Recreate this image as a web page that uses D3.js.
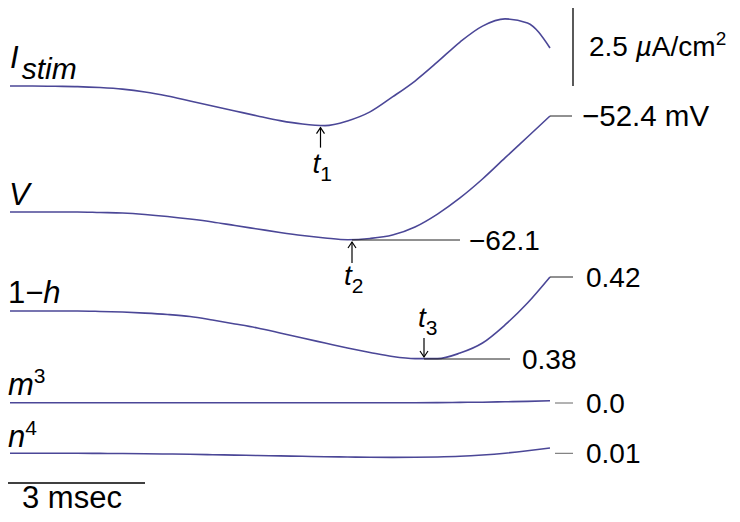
<!DOCTYPE html>
<html>
<head>
<meta charset="utf-8">
<script src="https://cdn.jsdelivr.net/npm/d3@7"></script>
<style>
  html, body { margin: 0; padding: 0; background: #fff; }
  svg { display: block; }
  text { font-family: "Liberation Sans", Arial, Helvetica, sans-serif; fill: #000; }
</style>
</head>
<body>
<svg id="chart" width="740" height="522"></svg>
<script>
// ---- data ----
const timeMs    = [0, 0.5, 1, 1.5, 2, 2.5, 3, 3.5, 4, 4.5, 5, 5.5, 6, 6.5, 7, 7.5, 8, 8.5, 9, 9.5, 10, 10.5, 11, 11.5, 12];
const iStim     = [0, 0, -0.01, -0.02, -0.05, -0.10, -0.19, -0.32, -0.48, -0.64, -0.80, -0.96, -1.11, -1.22, -1.27, -1.12, -0.83, -0.35, 0.16, 0.77, 1.41, 1.92, 2.15, 2.02, 1.22];
const voltage   = [-59.91, -59.91, -59.91, -59.91, -59.95, -59.99, -60.10, -60.26, -60.46, -60.69, -60.97, -61.24, -61.51, -61.75, -61.94, -62.08, -61.98, -61.71, -61.08, -60.07, -58.81, -57.33, -55.68, -54.04, -52.40];
const oneMinusH = [0.4034, 0.4034, 0.4034, 0.4034, 0.4032, 0.4029, 0.4024, 0.4017, 0.4007, 0.3990, 0.3971, 0.3951, 0.3927, 0.3902, 0.3878, 0.3854, 0.3832, 0.3812, 0.3802, 0.3802, 0.3829, 0.3878, 0.3966, 0.4073, 0.4200];
const mCubed    = [0.00015, 0.00015, 0.00015, 0.00015, 0.00015, 0.00015, 0.00015, 0.00015, 0.00015, 0.00015, 0.00015, 0.00015, 0.00015, 0.00015, 0.00015, 0.00015, 0.00015, 0.00015, 0.00015, 0.0002, 0.0003, 0.0004, 0.0006, 0.0008, 0.0011];
const nFourth   = [0.0100, 0.0100, 0.0100, 0.0100, 0.00995, 0.0099, 0.0098, 0.00966, 0.00951, 0.00932, 0.00912, 0.00893, 0.00873, 0.00854, 0.00834, 0.00820, 0.00805, 0.00800, 0.00805, 0.00820, 0.00854, 0.00917, 0.01005, 0.01122, 0.01259];

const markerTimes  = [6.9, 7.6, 9.2];          // t1, t2, t3 (ms)
const markerNames  = ["1", "2", "3"];
const vLevels      = [-52.4, -62.1];
const vLevelLabels = ["\u221252.4 mV", "\u221262.1"];
const hLevels      = [0.42, 0.38];
const hLevelLabels = ["0.42", "0.38"];
const mLevel = 0.0, mLevelLabel = "0.0";
const nLevel = 0.01, nLevelLabel = "0.01";
const currentBar = 2.5;      // µA/cm²
const timeBar = 3;           // msec

// ---- scales ----
const x  = d3.scaleLinear().domain([0, 12]).range([10, 550]);
const yI = d3.scaleLinear().domain([0, 2.5]).range([86, 8]);
const yV = d3.scaleLinear().domain([-62.1, -52.4]).range([240, 116]);
const yH = d3.scaleLinear().domain([0.38, 0.42]).range([359, 277]);
const yM = d3.scaleLinear().domain([0, 0.04]).range([403, 321]);
const yN = d3.scaleLinear().domain([0.01, 0.05]).range([453.3, 371.3]);

const svg = d3.select("#chart");
const traceColor = "#4b4797";

function trace(values, y) {
  const line = d3.line().x((d, i) => x(timeMs[i])).y(d => y(d)).curve(d3.curveMonotoneX);
  svg.append("path").attr("d", line(values))
    .attr("fill", "none").attr("stroke", traceColor).attr("stroke-width", 1.6);
}
trace(iStim, yI);
trace(voltage, yV);
trace(oneMinusH, yH);
trace(mCubed, yM);
trace(nFourth, yN);

// ---- left labels ----
function label(xp, yp, parts) {
  const t = svg.append("text").attr("x", xp).attr("y", yp);
  parts.forEach(p => {
    const s = t.append("tspan").text(p.t).attr("font-size", p.size);
    if (p.italic) s.attr("font-style", "italic");
    if (p.dy) s.attr("dy", p.dy);
    if (p.dx) s.attr("dx", p.dx);
  });
  return t;
}
label(10, 68, [{t: "I", size: 31, italic: true}, {t: "stim", size: 30, italic: true, dy: 11, dx: 3}]);
label(9, 205, [{t: "V", size: 31, italic: true}]);
label(8, 303, [{t: "1\u2212", size: 31}, {t: "h", size: 31, italic: true}]);
label(8, 395, [{t: "m", size: 31, italic: true}, {t: "3", size: 21, dy: -12}]);
label(8, 447, [{t: "n", size: 31, italic: true}, {t: "4", size: 21, dy: -12}]);

// ---- level lines and values ----
const levelStroke = "#222";
const valueSize = 28;
function levelLine(x1, x2, yy, color) {
  svg.append("line").attr("x1", x1).attr("x2", x2).attr("y1", yy).attr("y2", yy)
    .attr("stroke", color || levelStroke).attr("stroke-width", 1);
}
function valueText(xp, yy, txt, size) {
  svg.append("text").attr("x", xp).attr("y", yy + 10).attr("font-size", size || valueSize).text(txt);
}
// V
levelLine(x(12), 572, yV(vLevels[0]));
valueText(582, yV(vLevels[0]), vLevelLabels[0], 29.5);
levelLine(x(markerTimes[1]), 460, yV(vLevels[1]));
valueText(469, yV(vLevels[1]), vLevelLabels[1]);
// 1-h
levelLine(x(12), 573, yH(hLevels[0]));
valueText(586, yH(hLevels[0]), hLevelLabels[0]);
levelLine(x(markerTimes[2]), 510, yH(hLevels[1]));
valueText(522, yH(hLevels[1]), hLevelLabels[1]);
// m3, n4
levelLine(555, 573, yM(mLevel), "#666");
valueText(586, yM(mLevel), mLevelLabel);
levelLine(555, 573, yN(nLevel), "#666");
valueText(586, yN(nLevel), nLevelLabel);

// ---- current scale bar ----
svg.append("line").attr("x1", 573).attr("x2", 573).attr("y1", yI(currentBar)).attr("y2", yI(0))
  .attr("stroke", "#000").attr("stroke-width", 1.3);
{
  const t = svg.append("text").attr("x", 589).attr("y", 56).attr("font-size", 28);
  t.append("tspan").text("2.5 ");
  t.append("tspan").text("\u00b5").attr("font-style", "italic");
  t.append("tspan").text("A/cm");
  t.append("tspan").text("2").attr("font-size", 19).attr("dy", -11);
}

// ---- time scale bar ----
svg.append("line").attr("x1", x(0) - 2).attr("x2", x(timeBar)).attr("y1", 483).attr("y2", 483)
  .attr("stroke", "#000").attr("stroke-width", 1.3);
svg.append("text").attr("x", 22).attr("y", 508).attr("font-size", 31).text(timeBar + " msec");

// ---- markers t1, t2, t3 ----
function arrow(xp, yFrom, yTo) {
  const dir = yTo < yFrom ? 1 : -1; // head at yTo
  svg.append("line").attr("x1", xp).attr("x2", xp).attr("y1", yFrom).attr("y2", yTo)
    .attr("stroke", "#000").attr("stroke-width", 1.2);
  svg.append("path")
    .attr("d", `M${xp - 4},${yTo + dir * 6} L${xp},${yTo} L${xp + 4},${yTo + dir * 6}`)
    .attr("fill", "none").attr("stroke", "#000").attr("stroke-width", 1.2);
}
function tLabel(xp, yp, sub) {
  const t = svg.append("text").attr("x", xp).attr("y", yp);
  t.append("tspan").text("t").attr("font-size", 28).attr("font-style", "italic");
  t.append("tspan").text(sub).attr("font-size", 21).attr("dy", 8);
}
// t1 on I_stim
{
  const xp = x(markerTimes[0]);
  const yc = yI(d3.min(iStim));
  arrow(xp, yc + 22, yc + 2);
  tLabel(xp - 8, yc + 47, markerNames[0]);
}
// t2 on V
{
  const xp = x(markerTimes[1]);
  const yc = yV(vLevels[1]);
  arrow(xp, yc + 23, yc + 2);
  tLabel(xp - 8, yc + 45, markerNames[1]);
}
// t3 on 1-h
{
  const xp = x(markerTimes[2]);
  const yc = yH(hLevels[1]);
  arrow(xp, yc - 21, yc - 2);
  tLabel(xp - 6, yc - 32, markerNames[2]);
}
</script>
</body>
</html>
